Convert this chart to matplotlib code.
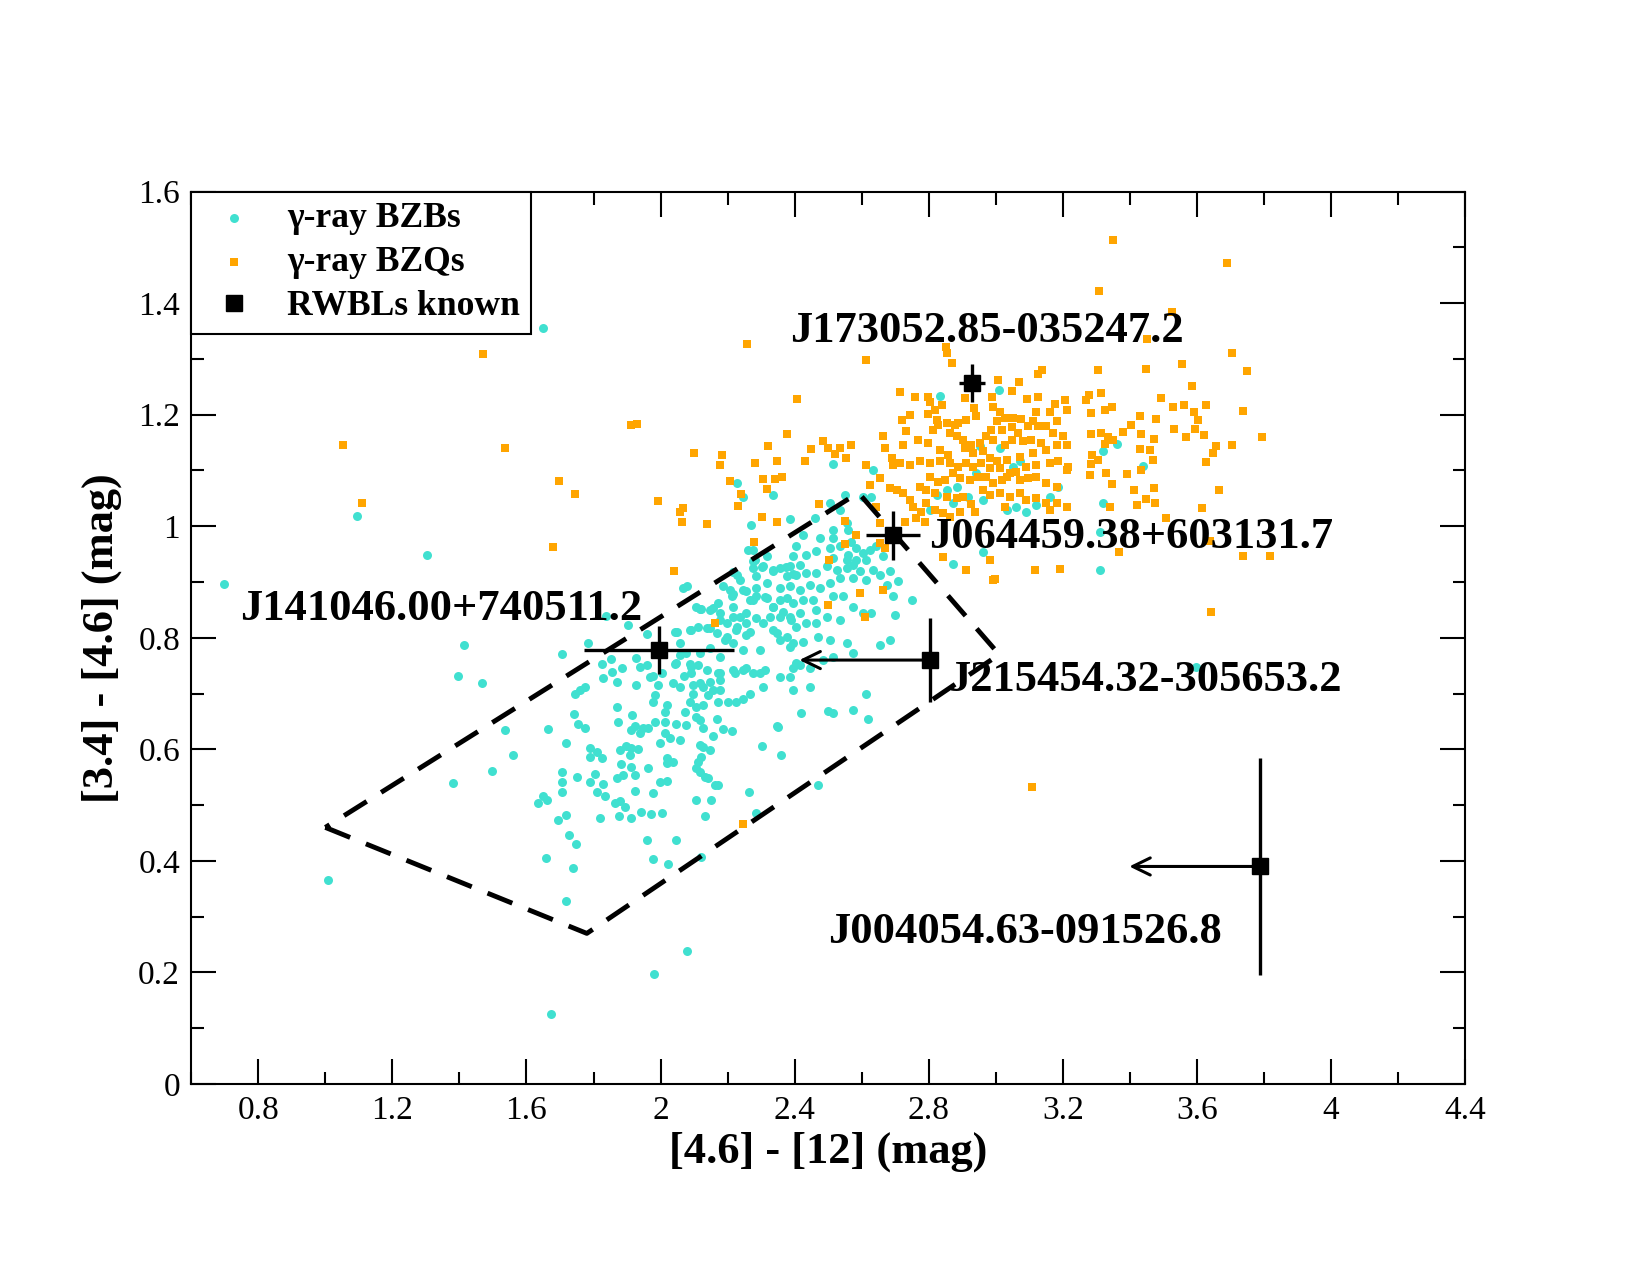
import numpy as np
import matplotlib
matplotlib.use("Agg")
import matplotlib.pyplot as plt
from matplotlib.ticker import MultipleLocator, FormatStrFormatter
from matplotlib.lines import Line2D

plt.rcParams['font.family'] = ['Liberation Serif', 'DejaVu Serif']

# gamma-ray BZBs (cyan)
bzb_x = [1.705, 1.784, 2.057, 1.466, 1.824, 1.852, 1.885, 1.928, 1.940, 1.958,
         1.854, 1.827, 1.869, 1.928, 1.968, 1.978, 2.003, 2.043, 2.057, 2.087,
         2.112, 2.069, 2.092, 2.038, 2.057, 2.097, 2.117, 2.147, 2.177, 2.172,
         2.221, 2.246, 2.276, 2.311, 2.306, 2.266, 2.246, 2.226, 2.202, 2.172,
         2.177, 2.157, 2.127, 2.142, 2.127, 2.107, 2.097, 2.087, 2.072, 2.107,
         2.117, 2.127, 2.167, 2.157, 2.187, 2.212, 2.301, 2.346, 2.057, 2.028,
         1.998, 2.013, 2.047, 2.077, 2.013, 1.983, 2.013, 2.018, 1.978, 1.983,
         1.993, 1.774, 1.759, 1.744, 1.869, 1.874, 1.916, 1.913, 1.923, 1.948,
         1.963, 1.938, 1.789, 1.809, 1.789, 1.824, 1.878, 1.898, 1.913, 1.933,
         1.908, 1.883, 1.913, 1.923, 1.963, 1.869, 1.888, 1.804, 1.789, 1.829,
         1.809, 1.834, 1.864, 1.878, 1.893, 1.925, 1.978, 1.998, 2.018, 2.018,
         2.018, 2.038, 2.107, 2.117, 2.112, 2.122, 2.117, 2.127, 2.147, 2.132,
         2.142, 2.162, 2.172, 2.107, 2.150, 2.132, 2.264, 2.284, 1.705, 1.705,
         1.705, 1.719, 1.751, 1.650, 1.660, 1.635, 1.695, 1.719, 1.819, 1.877,
         1.911, 1.941, 1.970, 2.003, 1.727, 1.747, 1.958, 2.045, 1.978, 2.023,
         2.122, 1.657, 1.739, 1.719, 2.079, 1.980, 1.672, 1.498, 1.560, 1.536,
         1.663, 1.742, 1.754, 1.774,
         2.227, 2.246, 2.336, 2.515, 2.634, 2.550, 2.604, 2.629, 2.505, 2.535,
         2.460, 2.386, 2.271, 2.555, 2.560, 2.515, 2.425, 2.475, 2.515, 2.505,
         2.535, 2.569, 2.584, 2.604, 2.624, 2.644, 2.405, 2.395, 2.435, 2.465,
         2.560, 2.515, 2.555, 2.584, 2.614, 2.664, 2.276, 2.276, 2.316, 2.227,
         2.276, 2.286, 2.306, 2.336, 2.356, 2.386, 2.415, 2.376, 2.405, 2.435,
         2.465, 2.495, 2.525, 2.555, 2.574, 2.594, 2.634, 2.654, 2.684, 2.709,
         2.674, 2.614, 2.574, 2.535, 2.505, 2.475, 2.445, 2.415, 2.386, 2.356,
         2.316, 2.286, 2.256, 2.236, 2.207, 2.172, 2.187, 2.068, 2.079, 2.107,
         2.122, 2.212, 2.217, 2.236, 2.266, 2.286, 2.316, 2.336, 2.356, 2.376,
         2.395, 2.425, 2.455, 2.465, 2.515, 2.545, 2.574, 2.604, 2.629, 2.694,
         2.699, 2.415, 2.386, 2.356, 2.326, 2.286, 2.256, 2.227, 2.197, 2.177,
         2.157, 2.137, 2.112, 2.092, 2.495, 2.535, 2.465, 2.435, 2.405, 2.048,
         2.167, 2.197, 2.256, 2.346, 2.376, 2.395, 2.425, 2.470, 2.505, 2.555,
         2.574, 2.654, 2.395, 2.445, 2.415, 2.485, 2.515, 2.445, 2.395, 2.614,
         2.515, 2.574, 2.684,
         2.833, 3.009, 2.952, 3.012, 3.071, 3.052, 2.942, 2.883, 2.853, 2.823,
         2.873, 2.917, 2.962, 3.032, 3.061, 3.091, 3.121, 3.161, 3.186, 2.803,
         2.962, 2.873,
         3.320, 3.360, 3.439, 3.320, 3.312, 3.310,
         1.650, 1.093, 1.304, 0.698, 1.413, 1.396, 1.380, 1.836, 1.902, 1.960,
         2.043, 1.007, 3.597, 2.350, 2.420, 2.500, 2.620, 2.470, 2.360, 2.750,
         2.216,
         2.261, 2.281, 2.301, 2.336, 2.375, 2.395, 2.216, 2.246, 2.276, 2.311,
         2.336, 2.366, 2.390, 2.256, 2.216, 2.177, 2.147, 2.117, 2.087, 2.147,
         2.192, 2.226, 2.266, 2.306, 2.336, 2.356, 2.385, 2.405, 2.296, 2.246,
         2.216, 2.177, 2.147, 2.117, 2.077, 2.047, 2.092, 2.137, 2.177, 2.216,
         2.256, 2.296, 2.356, 2.385]
bzb_y = [0.770, 0.790, 0.791, 0.718, 0.753, 0.762, 0.745, 0.763, 0.747, 0.751,
         0.739, 0.727, 0.720, 0.716, 0.729, 0.732, 0.736, 0.753, 0.769, 0.753,
         0.752, 0.731, 0.736, 0.718, 0.712, 0.715, 0.718, 0.721, 0.724, 0.736,
         0.736, 0.743, 0.736, 0.742, 0.712, 0.700, 0.691, 0.684, 0.685, 0.685,
         0.706, 0.706, 0.712, 0.697, 0.679, 0.676, 0.700, 0.685, 0.667, 0.658,
         0.652, 0.638, 0.655, 0.623, 0.636, 0.632, 0.606, 0.641, 0.617, 0.620,
         0.611, 0.629, 0.646, 0.643, 0.649, 0.649, 0.667, 0.679, 0.685, 0.697,
         0.715, 0.712, 0.706, 0.700, 0.675, 0.649, 0.661, 0.635, 0.641, 0.638,
         0.638, 0.629, 0.602, 0.596, 0.587, 0.584, 0.599, 0.606, 0.602, 0.600,
         0.590, 0.574, 0.568, 0.554, 0.566, 0.549, 0.554, 0.555, 0.542, 0.537,
         0.523, 0.517, 0.504, 0.507, 0.497, 0.526, 0.521, 0.542, 0.544, 0.584,
         0.576, 0.578, 0.566, 0.560, 0.578, 0.587, 0.608, 0.605, 0.599, 0.551,
         0.548, 0.536, 0.536, 0.510, 0.510, 0.480, 0.524, 0.485, 0.560, 0.541,
         0.524, 0.611, 0.550, 0.516, 0.509, 0.504, 0.474, 0.483, 0.476, 0.480,
         0.477, 0.488, 0.484, 0.486, 0.446, 0.430, 0.437, 0.438, 0.404, 0.394,
         0.407, 0.405, 0.388, 0.328, 0.239, 0.197, 0.125, 0.562, 0.590, 0.635,
         0.636, 0.663, 0.646, 0.638,
         1.077, 1.053, 1.056, 1.112, 1.101, 1.056, 1.052, 1.052, 1.041, 1.029,
         1.014, 1.013, 1.002, 1.005, 0.993, 0.993, 0.984, 0.978, 0.978, 0.961,
         0.964, 0.972, 0.961, 0.952, 0.958, 0.964, 0.964, 0.946, 0.949, 0.955,
         0.949, 0.943, 0.940, 0.940, 0.940, 0.946, 0.958, 0.937, 0.946, 0.913,
         0.925, 0.910, 0.928, 0.919, 0.925, 0.928, 0.931, 0.910, 0.913, 0.916,
         0.916, 0.928, 0.922, 0.925, 0.931, 0.919, 0.922, 0.913, 0.919, 0.901,
         0.895, 0.904, 0.907, 0.907, 0.898, 0.889, 0.895, 0.886, 0.892, 0.889,
         0.898, 0.889, 0.883, 0.904, 0.886, 0.862, 0.892, 0.889, 0.893, 0.856,
         0.852, 0.874, 0.856, 0.838, 0.868, 0.874, 0.871, 0.856, 0.868, 0.871,
         0.862, 0.868, 0.868, 0.850, 0.874, 0.874, 0.856, 0.844, 0.844, 0.874,
         0.841, 0.844, 0.838, 0.838, 0.838, 0.835, 0.826, 0.820, 0.826, 0.844,
         0.853, 0.817, 0.820, 0.814, 0.838, 0.832, 0.826, 0.826, 0.820, 0.811,
         0.808, 0.802, 0.805, 0.808, 0.802, 0.790, 0.793, 0.802, 0.796, 0.790,
         0.772, 0.787, 0.745, 0.745, 0.751, 0.760, 0.766, 0.712, 0.706, 0.700,
         0.665, 0.671, 0.796,
         1.234, 1.244, 1.143, 1.140, 1.116, 1.107, 1.095, 1.071, 1.065, 1.056,
         1.041, 1.053, 1.047, 1.029, 1.035, 1.026, 1.038, 1.053, 1.071, 1.029,
         0.954, 0.933,
         1.135, 1.148, 1.108, 1.041, 0.990, 0.921,
         1.356, 1.018, 0.948, 0.896, 0.787, 0.731, 0.540, 0.839, 0.823, 0.806,
         0.811, 0.366, 0.747, 0.640, 0.665, 0.668, 0.654, 0.536, 0.590, 0.868,
         0.918,
         0.957, 0.939, 0.927, 0.921, 0.927, 0.915, 0.879, 0.885, 0.867, 0.873,
         0.855, 0.847, 0.832, 0.844, 0.838, 0.832, 0.850, 0.852, 0.814, 0.817,
         0.796, 0.814, 0.811, 0.826, 0.814, 0.796, 0.784, 0.754, 0.778, 0.778,
         0.790, 0.766, 0.781, 0.772, 0.772, 0.754, 0.748, 0.742, 0.736, 0.742,
         0.745, 0.736, 0.730, 0.730]

# gamma-ray BZQs (orange)
bzq_x = [2.246,
         2.177, 2.281, 2.346, 2.430, 2.614, 2.694, 2.743, 1.993, 2.058, 2.068,
         2.063, 2.139, 2.230, 2.241, 2.304, 2.316, 2.341, 2.363, 2.301, 2.346,
         2.278, 2.040, 2.162, 2.473, 2.550, 2.584, 2.550, 2.503, 2.594, 2.664,
         2.498, 2.611, 2.624, 2.654, 2.684, 2.704, 2.724, 2.743, 2.753, 2.729,
         2.763, 2.644, 2.654, 2.654, 2.669,
         2.614, 2.851, 2.853, 2.870, 2.714, 2.758, 2.798, 2.803, 2.818, 2.838,
         2.907, 2.934, 2.942, 2.992, 3.012, 2.989, 3.007, 3.069, 3.126, 3.139,
         3.047, 3.093, 3.126, 3.176, 3.206, 3.211, 3.161, 3.121, 3.111, 3.076,
         3.052, 3.027, 3.002, 2.987, 3.017, 3.047, 3.066, 3.096, 3.126, 3.151,
         3.181, 3.171, 3.201, 3.211, 3.181, 3.136, 3.106, 3.081, 3.047, 3.027,
         2.992, 2.972, 2.952, 2.927, 2.902, 2.883, 2.863, 2.888, 2.912, 2.878,
         2.853, 2.828, 2.813, 2.798, 2.823, 2.743, 2.719, 2.733, 2.664, 2.669,
         2.724, 2.768, 2.798, 2.833, 2.858, 2.907, 2.932, 2.962, 2.982, 3.002,
         3.032, 3.071, 3.111, 3.151, 3.186, 3.216, 3.161, 3.121, 3.091, 3.061,
         3.032, 3.012, 2.982, 2.957, 2.932, 2.912, 2.888, 2.863, 2.833, 2.803,
         2.773, 2.714, 2.689, 2.803, 2.828, 2.848, 2.873, 2.893, 2.922, 2.947,
         2.972, 2.992, 3.017, 3.042, 3.071, 3.096, 3.121, 3.151, 3.181, 3.211,
         2.773, 2.793, 2.818, 2.853, 2.883, 2.902, 2.927, 2.937, 2.962, 2.982,
         3.012, 3.042, 3.071, 3.091, 3.121, 3.151, 3.181, 3.211, 2.893, 2.863,
         2.843, 2.818, 2.793, 2.778, 2.788, 2.843, 2.912, 2.982, 3.027, 3.161,
         2.992, 3.116, 3.191, 2.485, 2.500, 2.535, 2.569, 2.553,
         3.350, 3.690, 3.308, 3.524, 3.451, 3.703, 3.750, 3.305, 3.447, 3.556,
         3.585, 3.492, 3.527, 3.561, 3.628, 3.591, 3.738, 3.603, 3.595, 3.621,
         3.566, 3.531, 3.477, 3.429, 3.403, 3.380, 3.347, 3.325, 3.315, 3.278,
         3.268, 3.285, 3.315, 3.335, 3.350, 3.325, 3.285, 3.434, 3.472, 3.429,
         3.459, 3.469, 3.434, 3.390, 3.330, 3.280, 3.285, 3.288, 3.305, 3.345,
         3.412, 3.471, 3.449, 3.474, 3.422, 3.340, 3.509, 3.615, 3.628, 3.648,
         3.658, 3.703, 3.794, 3.665, 3.638, 3.367, 3.736, 3.817,
         1.471, 1.053, 1.537, 1.697, 1.110, 1.680, 1.745, 1.912, 1.930, 2.099,
         2.184, 2.259, 2.407, 2.376, 2.320, 2.206, 2.448, 2.520, 3.641, 3.107,
         2.997]
bzq_y = [0.467,
         1.110, 1.113, 1.116, 1.116, 1.110, 1.110, 1.110, 1.046, 1.025, 1.032,
         1.007, 1.004, 1.037, 1.057, 1.085, 1.066, 1.084, 1.089, 1.016, 1.008,
         0.972, 0.919, 0.826, 1.039, 1.010, 0.984, 0.968, 0.940, 0.880, 0.886,
         0.859, 0.838, 1.074, 1.086, 1.068, 1.065, 1.059, 1.047, 1.035, 1.008,
         1.014, 1.035, 1.005, 0.970, 0.961,
         1.298, 1.322, 1.311, 1.293, 1.240, 1.231, 1.232, 1.223, 1.208, 1.217,
         1.229, 1.211, 1.197, 1.214, 1.204, 1.232, 1.262, 1.258, 1.272, 1.280,
         1.243, 1.228, 1.231, 1.219, 1.226, 1.208, 1.205, 1.205, 1.188, 1.192,
         1.194, 1.194, 1.188, 1.173, 1.173, 1.177, 1.167, 1.179, 1.179, 1.179,
         1.188, 1.167, 1.161, 1.146, 1.146, 1.149, 1.155, 1.152, 1.155, 1.146,
         1.155, 1.161, 1.150, 1.146, 1.155, 1.161, 1.167, 1.185, 1.191, 1.182,
         1.185, 1.182, 1.173, 1.202, 1.191, 1.200, 1.191, 1.170, 1.161, 1.140,
         1.146, 1.155, 1.149, 1.137, 1.128, 1.140, 1.131, 1.134, 1.122, 1.116,
         1.119, 1.124, 1.131, 1.137, 1.116, 1.107, 1.113, 1.110, 1.107, 1.098,
         1.089, 1.104, 1.104, 1.113, 1.107, 1.113, 1.107, 1.113, 1.116, 1.113,
         1.116, 1.113, 1.122, 1.089, 1.080, 1.083, 1.095, 1.086, 1.083, 1.089,
         1.089, 1.077, 1.083, 1.095, 1.083, 1.086, 1.089, 1.077, 1.071, 1.101,
         1.071, 1.065, 1.059, 1.053, 1.050, 1.053, 1.040, 1.026, 1.065, 1.056,
         1.059, 1.053, 1.059, 1.047, 1.050, 1.041, 1.041, 1.035, 1.026, 1.017,
         1.023, 1.029, 1.041, 1.026, 1.008, 0.945, 0.921, 0.939, 1.035, 1.029,
         0.904, 0.921, 0.924, 1.152, 1.140, 1.140, 1.146, 1.122,
         1.513, 1.472, 1.422, 1.384, 1.335, 1.311, 1.279, 1.280, 1.281, 1.291,
         1.251, 1.230, 1.213, 1.218, 1.218, 1.204, 1.206, 1.190, 1.175, 1.163,
         1.160, 1.175, 1.193, 1.198, 1.181, 1.169, 1.213, 1.208, 1.238, 1.235,
         1.226, 1.203, 1.167, 1.160, 1.154, 1.148, 1.166, 1.166, 1.157, 1.138,
         1.136, 1.118, 1.100, 1.094, 1.096, 1.091, 1.112, 1.127, 1.118, 1.075,
         1.065, 1.069, 1.048, 1.041, 1.038, 1.035, 1.015, 1.033, 1.115, 1.132,
         1.143, 1.145, 1.160, 1.064, 0.974, 0.954, 0.946, 0.946,
         1.309, 1.146, 1.141, 1.081, 1.041, 0.962, 1.057, 1.181, 1.183, 1.132,
         1.128, 1.326, 1.228, 1.166, 1.143, 1.081, 1.138, 1.130, 0.847, 0.532,
         0.905]

# known RWBLs
rwbl_names = ["J173052.85-035247.2", "J064459.38+603131.7", "J141046.00+740511.2",
              "J215454.32-305653.2", "J004054.63-091526.8"]
rwbl_x = [2.929, 2.694, 1.996, 2.804, 3.788]
rwbl_y = [1.256, 0.984, 0.778, 0.760, 0.390]
rwbl_xerr = [0.040, 0.080, 0.224, 0.0, 0.0]
rwbl_yerr = [0.034, 0.044, 0.043, 0.076, 0.194]
rwbl_xlimit = [False, False, False, True, True]
limit_len = 0.39

# where each name is written (left edge, vertical centre)
label_x = [2.385, 2.80, 0.747, 2.856, 2.501]
label_y = [1.350, 0.981, 0.851, 0.724, 0.273]

# WISE gamma-ray strip outline
strip_x = [1.00, 1.78, 3.01, 2.59, 1.00]
strip_y = [0.46, 0.27, 0.77, 1.06, 0.46]


def main():
    fig = plt.figure(figsize=(16.5, 12.75), dpi=100)
    ax = fig.add_axes([0.1159, 0.1498, 0.7721, 0.7])

    ax.scatter(bzb_x, bzb_y, s=42, marker='o', color='#40E0D0', linewidths=0,
               zorder=2, label='γ-ray BZBs')
    ax.scatter(bzq_x, bzq_y, s=30, marker='s', color='#FFA500', linewidths=0,
               zorder=2, label='γ-ray BZQs')

    ax.plot(strip_x, strip_y, color='black', lw=3.5, dashes=(5.5, 3.5), zorder=3)

    ax.errorbar(rwbl_x, rwbl_y, xerr=rwbl_xerr, yerr=rwbl_yerr, fmt='s',
                color='black', ms=12, elinewidth=2.4, capsize=0, zorder=4)
    for x, y, lim in zip(rwbl_x, rwbl_y, rwbl_xlimit):
        if lim:
            ax.annotate('', xy=(x - limit_len, y), xytext=(x, y),
                        arrowprops=dict(arrowstyle='->,head_length=0.45,head_width=0.22',
                                        lw=2.2, color='black', shrinkA=0, shrinkB=0,
                                        mutation_scale=28), zorder=4)

    for name, lx, ly in zip(rwbl_names, label_x, label_y):
        ax.text(lx, ly, name, fontsize=32, fontweight='bold', ha='left',
                va='center', zorder=5)

    ax.set_xlim(0.6, 4.4)
    ax.set_ylim(0, 1.6)
    ax.set_xticks(np.arange(0.8, 4.41, 0.4))
    ax.xaxis.set_minor_locator(MultipleLocator(0.2))
    ax.yaxis.set_major_locator(MultipleLocator(0.2))
    ax.yaxis.set_minor_locator(MultipleLocator(0.1))
    ax.xaxis.set_major_formatter(FormatStrFormatter('%g'))
    ax.yaxis.set_major_formatter(FormatStrFormatter('%g'))
    ax.tick_params(which='both', direction='in', top=True, right=True,
                   width=1.5, labelsize=24)
    ax.tick_params(which='major', length=18)
    ax.tick_params(which='minor', length=9)
    ax.tick_params(axis='x', pad=8)
    ax.tick_params(axis='y', pad=8)
    for sp in ax.spines.values():
        sp.set_linewidth(1.5)

    ax.set_xlabel('[4.6] - [12] (mag)', fontsize=32, fontweight='bold', labelpad=4)
    ax.set_ylabel('[3.4] - [4.6] (mag)', fontsize=32, fontweight='bold', labelpad=12)

    handles, labels = ax.get_legend_handles_labels()
    handles.append(Line2D([], [], marker='s', color='black', ls='none', ms=12))
    labels.append('RWBLs known')
    leg = ax.legend(handles, labels, loc='upper left', bbox_to_anchor=(0, 1),
                    borderaxespad=0, fancybox=False, framealpha=1,
                    edgecolor='black', prop=dict(size=25.6, weight='bold'),
                    handlelength=1.8, handletextpad=0.6, borderpad=0.3,
                    labelspacing=0.31, scatterpoints=1)
    leg.get_frame().set_linewidth(1.5)
    leg.set_zorder(6)

    fig.savefig('out.png', dpi=100)
    plt.close(fig)


if __name__ == '__main__':
    main()
